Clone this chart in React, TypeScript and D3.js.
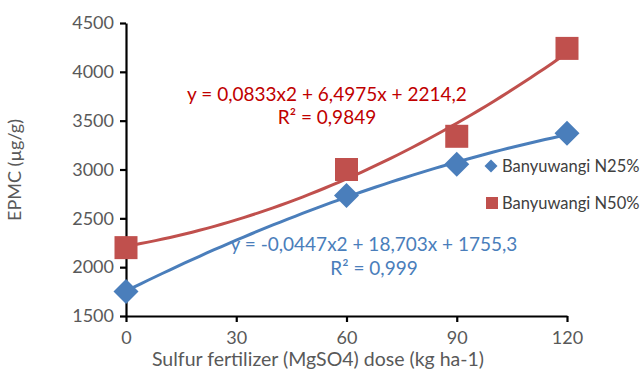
import React, { useEffect, useRef } from 'react';
import * as d3 from 'd3';

const doses = [0, 60, 90, 120];
const n25 = [1750, 2735, 3055, 3370];
const n50 = [2200, 3000, 3340, 4240];
const xTicks = [0, 30, 60, 90, 120];
const yTicks = [1500, 2000, 2500, 3000, 3500, 4000, 4500];
// trendline coefficients [a, b, c] for a*x^2 + b*x + c
const n25Fit = [-0.0447, 18.703, 1755.3];
const n50Fit = [0.0833, 6.4975, 2214.2];

const BLUE = '#4A7EBB';
const RED = '#C0504D';
const FONT = 'Lato, "Open Sans", sans-serif';

const diamondPath = (r: number) => `M0,${-r}L${r},0L0,${r}L${-r},0Z`;

const App = () => {
    const ref = useRef<SVGSVGElement>(null);

    useEffect(() => {
        const svg = d3.select(ref.current);
        svg.selectAll('*').remove();

        const x = d3.scaleLinear().domain([0, 120]).range([126, 567]);
        const y = d3.scaleLinear().domain([1500, 4500]).range([316, 23]);

        // axes
        const yAxis = svg.append('g')
            .attr('transform', 'translate(126,0)')
            .call(d3.axisLeft(y).tickValues(yTicks).tickFormat(d3.format('d')).tickSize(6).tickPadding(6).tickSizeOuter(0));
        const xAxis = svg.append('g')
            .attr('transform', 'translate(0,316)')
            .call(d3.axisBottom(x).tickValues(xTicks).tickFormat(d3.format('d')).tickSize(6).tickPadding(9).tickSizeOuter(0));
        [xAxis, yAxis].forEach(a => {
            a.select('.domain').attr('stroke', '#000').attr('stroke-width', 2.2);
            a.selectAll('.tick line').attr('stroke', '#000').attr('stroke-width', 2.2);
            a.selectAll('.tick text')
                .attr('fill', '#595959')
                .style('font-family', FONT)
                .style('font-size', '18px');
        });

        // trendlines
        const fit = (c: number[]) => (v: number) => c[0] * v * v + c[1] * v + c[2];
        const line = d3.line<number>().x(d => x(d)).curve(d3.curveMonotoneX);
        const xs = d3.range(0, 121, 2);
        [[n25Fit, BLUE], [n50Fit, RED]].forEach(([c, col]) => {
            const f = fit(c as number[]);
            svg.append('path')
                .datum(xs)
                .attr('d', line.y(d => y(f(d))))
                .attr('fill', 'none')
                .attr('stroke', col as string)
                .attr('stroke-width', 3);
        });

        // markers
        svg.append('g').selectAll('path')
            .data(doses)
            .enter()
            .append('path')
            .attr('d', diamondPath(12.5))
            .attr('transform', (d, i) => `translate(${x(d)},${y(n25[i])})`)
            .attr('fill', BLUE);
        svg.append('g').selectAll('rect')
            .data(doses)
            .enter()
            .append('rect')
            .attr('x', d => x(d) - 11.5)
            .attr('y', (d, i) => y(n50[i]) - 11.5)
            .attr('width', 23)
            .attr('height', 23)
            .attr('fill', RED);

        // legend
        svg.append('path')
            .attr('d', diamondPath(6.5))
            .attr('transform', 'translate(491,166)')
            .attr('fill', BLUE);
        svg.append('rect')
            .attr('x', 486).attr('y', 197).attr('width', 12).attr('height', 12)
            .attr('fill', RED);
        const legendText = (t: string, yy: number) => svg.append('text')
            .attr('x', 502).attr('y', yy)
            .attr('fill', '#404040')
            .style('font-family', FONT)
            .style('font-size', '16.5px')
            .text(t);
        legendText('Banyuwangi N25%', 172);
        legendText('Banyuwangi N50%', 209);

        // equations
        const label = (t: string, cx: number, yy: number, col: string) => svg.append('text')
            .attr('x', cx).attr('y', yy)
            .attr('text-anchor', 'middle')
            .attr('fill', col)
            .style('font-family', FONT)
            .style('font-size', '19px')
            .text(t);
        label('y = 0,0833x2 + 6,4975x + 2214,2', 327, 101, '#C00000');
        label('R² = 0,9849', 327, 124, '#C00000');
        label('y = -0,0447x2 + 18,703x + 1755,3', 374, 251, BLUE);
        label('R² = 0,999', 374, 275, BLUE);

        // axis titles
        svg.append('text')
            .attr('transform', 'translate(21,170) rotate(-90)')
            .attr('text-anchor', 'middle')
            .attr('fill', '#595959')
            .style('font-family', FONT)
            .style('font-size', '18px')
            .text('EPMC (µg/g)');
        svg.append('text')
            .attr('x', 318).attr('y', 366)
            .attr('text-anchor', 'middle')
            .attr('fill', '#595959')
            .style('font-family', FONT)
            .style('font-size', '19.5px')
            .text('Sulfur fertilizer (MgSO4) dose (kg ha-1)');
    }, []);

    return (
        <svg ref={ref} width={644} height={369}
            style={{ position: 'absolute', left: 0, top: 0, background: '#fff' }} />
    );
};

export default App;
